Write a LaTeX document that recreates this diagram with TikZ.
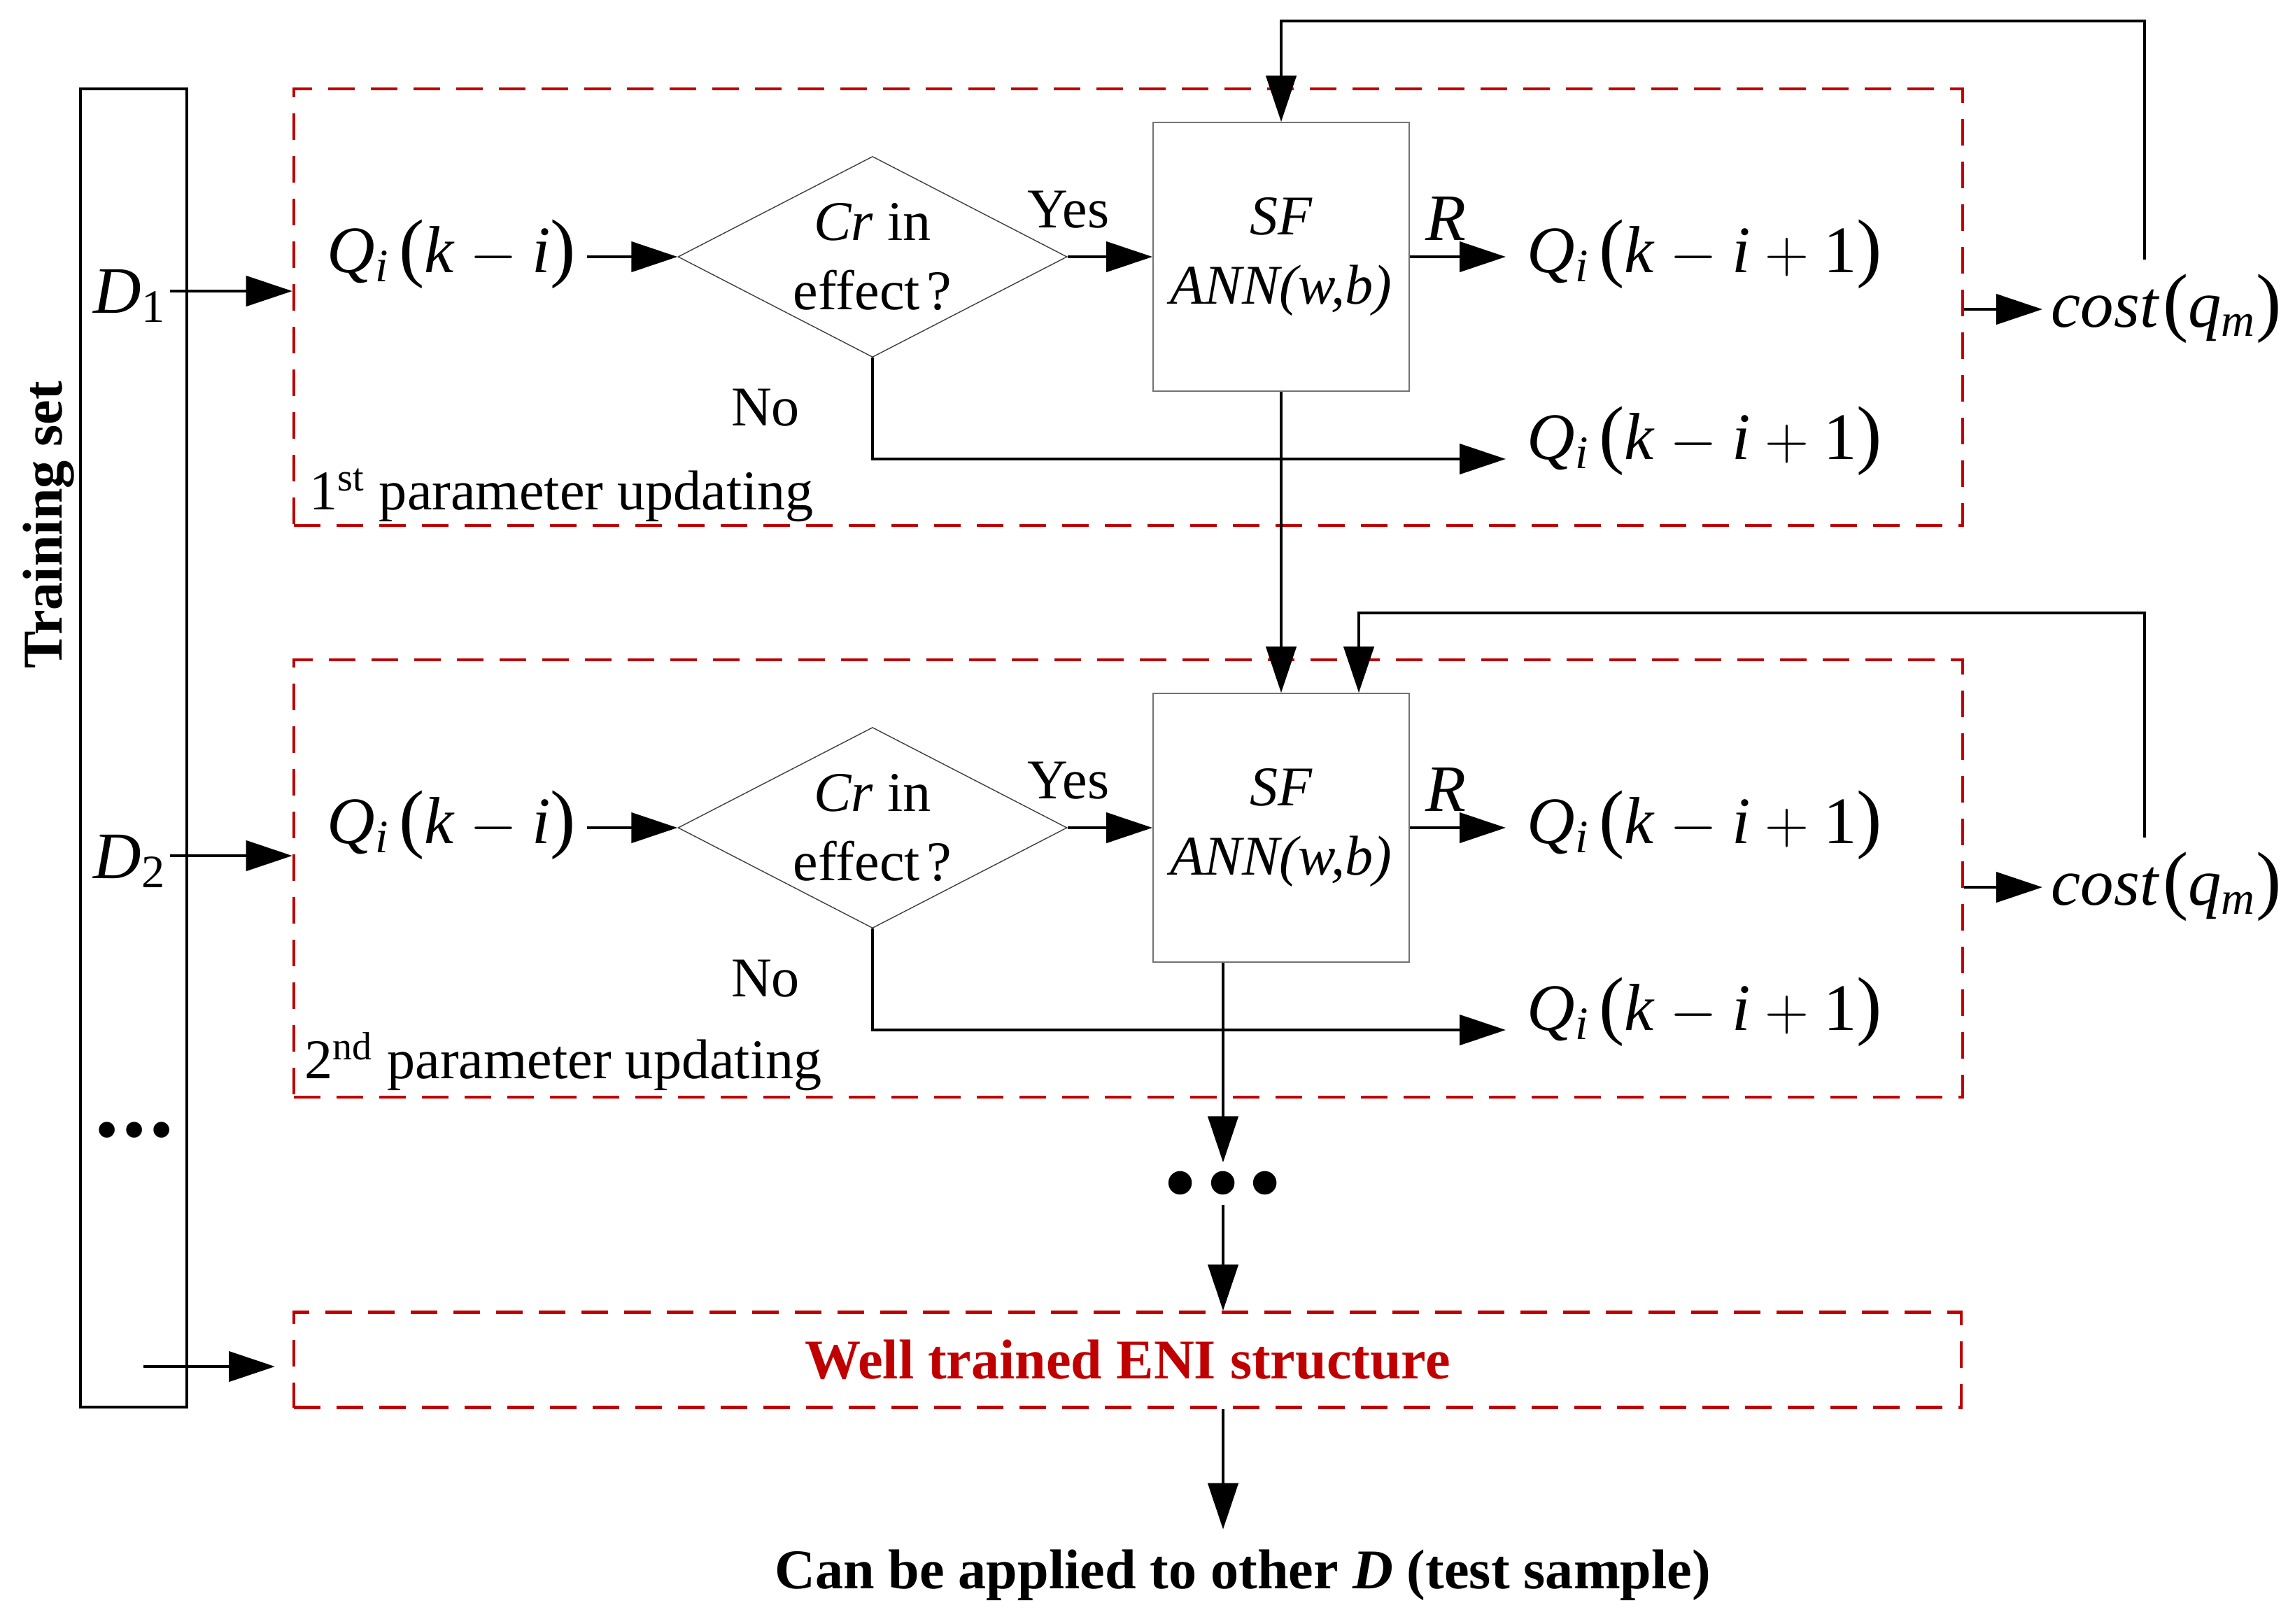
\documentclass[tikz,border=0pt]{standalone}
\usepackage{amsmath}
\usepackage{fontspec}
\setmainfont{Liberation Serif}
\usetikzlibrary{arrows.meta,shapes.geometric}

\definecolor{enired}{RGB}{192,0,0}
\newcommand{\txtsz}{\fontsize{22.8pt}{28.4pt}\selectfont}
\newcommand{\mathsz}{\fontsize{27pt}{32pt}\selectfont}
\newcommand{\mi}[1]{\textit{#1}}
\newcommand{\bpar}[1]{{\fontsize{31pt}{31pt}\selectfont #1}}
\newcommand{\opm}{\hspace{0.22em}{\fontsize{30pt}{30pt}\selectfont$-$}\hspace{0.22em}}
\newcommand{\opp}{\hspace{0.22em}{\fontsize{30pt}{30pt}\selectfont$+$}\hspace{0.22em}}
\newcommand{\qterm}[1]{\mi{Q}\textsubscript{\mi{i}}\hspace{0.15em}\bpar{(}#1\bpar{)}}
\newcommand{\costterm}{\mi{cost}\hspace{0.05em}\bpar{(}\mi{q}\textsubscript{\mi{m}}\bpar{)}}

\begin{document}
\begin{tikzpicture}[
      every node/.style={inner sep=0pt,font=\txtsz},
      conn/.style={line width=1.25pt,-{Triangle[length=0.66cm,width=0.43cm]}},
      upd/.style={draw=enired,line width=1.3pt,dash pattern=on 0.38cm off 0.23cm},
      cond/.style={diamond,draw=black!75,line width=0.4pt,aspect=1.94,
        minimum width=5.56cm,minimum height=2.87cm,align=center},
      sfbox/.style={draw=black!55,line width=0.5pt,minimum width=3.66cm,
        minimum height=3.84cm,align=center},
      expr/.style={font=\mathsz,text height=0.44cm,text depth=0cm,inner xsep=0.15cm}
    ]
      \useasboundingbox (0,0) rectangle (32.8,-23.2);

      % Training set column on the left
      \node[draw,line width=1.1pt,minimum width=1.52cm,minimum height=18.84cm] (train) at (1.91,-10.69) {};
      \node[rotate=90,anchor=base,font=\txtsz\bfseries] (trainlbl) at (0.88,-7.50) {Training set};
      \node[font=\fontsize{27pt}{27pt}\selectfont] (tdots) at (1.92,-16.25) {•\hspace{0.06em}•\hspace{0.06em}•};

      % First parameter updating block
      \node[upd,minimum width=23.85cm,minimum height=6.24cm] (upd1) at (16.125,-4.39) {};
      \node[anchor=base west,font=\mathsz,inner xsep=0.05cm] (d1) at (1.28,-4.47) {\mi{D}\textsubscript{1}};
      \node[expr,anchor=west] (qin1) at (4.52,-3.67) {\qterm{\mi{k}\opm\mi{i}}};
      \node[cond] (cr1) at (12.47,-3.67) {\mi{Cr} in\\effect\hspace{0.12em}?};
      \node[anchor=base] (yes1) at (15.27,-3.25) {Yes};
      \node[sfbox] (sf1) at (18.31,-3.67) {\mi{SF}\\\mi{ANN(w,b)}};
      \node[anchor=base,font=\mathsz] (r1) at (20.66,-3.43) {\mi{R}};
      \node[expr,anchor=west,inner xsep=0.3cm] (qout1) at (21.52,-3.67) {\qterm{\mi{k}\opm\mi{i}\opp 1}};
      \node[expr,anchor=base west,inner xsep=0.3cm] (qdn1) at (21.52,-6.56) {\qterm{\mi{k}\opm\mi{i}\opp 1}};
      \node[anchor=base] (no1) at (10.94,-6.08) {No};
      \node[anchor=base west] (lab1) at (4.42,-7.28) {1\textsuperscript{st} parameter updating};
      \node[expr,anchor=west,text height=0.5cm,inner xsep=0.12cm] (cost1) at (29.19,-4.42) {\costterm};
      \coordinate (d1o) at ([yshift=0.31cm]d1.base east);
      \coordinate (fb1) at (30.65,-3.71);

      \draw[conn] (d1o) -- (d1o -| upd1.west);
      \draw[conn] (qin1) -- (cr1);
      \draw[conn] (cr1) -- (sf1);
      \draw[conn] (sf1) -- (qout1);
      \draw[conn] (cr1.south) |- (qdn1.base west);
      \draw[conn] (cost1.west -| upd1.east) -- (cost1.west);
      \draw[conn] (fb1) -- ++(0,3.41) -| (sf1.north);

      % Second parameter updating block
      \node[upd,minimum width=23.85cm,minimum height=6.25cm] (upd2) at (16.125,-12.555) {};
      \node[anchor=base west,font=\mathsz,inner xsep=0.05cm] (d2) at (1.28,-12.55) {\mi{D}\textsubscript{2}};
      \node[expr,anchor=west] (qin2) at (4.52,-11.83) {\qterm{\mi{k}\opm\mi{i}}};
      \node[cond] (cr2) at (12.47,-11.83) {\mi{Cr} in\\effect\hspace{0.12em}?};
      \node[anchor=base] (yes2) at (15.27,-11.41) {Yes};
      \node[sfbox] (sf2) at (18.31,-11.83) {\mi{SF}\\\mi{ANN(w,b)}};
      \node[anchor=base,font=\mathsz] (r2) at (20.66,-11.59) {\mi{R}};
      \node[expr,anchor=west,inner xsep=0.3cm] (qout2) at (21.52,-11.83) {\qterm{\mi{k}\opm\mi{i}\opp 1}};
      \node[expr,anchor=base west,inner xsep=0.3cm] (qdn2) at (21.52,-14.72) {\qterm{\mi{k}\opm\mi{i}\opp 1}};
      \node[anchor=base] (no2) at (10.94,-14.24) {No};
      \node[anchor=base west] (lab2) at (4.35,-15.41) {2\textsuperscript{nd} parameter updating};
      \node[expr,anchor=west,text height=0.5cm,inner xsep=0.12cm] (cost2) at (29.19,-12.68) {\costterm};
      \coordinate (d2o) at ([yshift=0.32cm]d2.base east);
      \coordinate (fb2) at (30.65,-11.97);

      \draw[conn] (d2o) -- (d2o -| upd2.west);
      \draw[conn] (qin2) -- (cr2);
      \draw[conn] (cr2) -- (sf2);
      \draw[conn] (sf2) -- (qout2);
      \draw[conn] (cr2.south) |- (qdn2.base west);
      \draw[conn] (cost2.west -| upd2.east) -- (cost2.west);
      \draw[conn] (fb2) -- ++(0,3.21) -| ([xshift=1.11cm]sf2.north);
      % the trained block passes on to the next one
      \draw[conn] (sf1) -- (sf2);

      % Remaining updates and the final structure
      \node[font=\fontsize{40pt}{40pt}\selectfont,text height=1.14cm,text depth=0cm] (dots) at (17.48,-16.80) {•\hspace{0.08em}•\hspace{0.08em}•};
      \node[upd,minimum width=23.83cm,minimum height=1.36cm,text=enired,font=\txtsz\bfseries] (wt) at (16.115,-19.435) {Well trained ENI structure};
      \node[anchor=base,font=\txtsz\bfseries,inner ysep=0.28cm] (apply) at (17.76,-22.70) {Can be applied to other \textit{D} (test sample)};
      \coordinate (tsa) at (2.05,-19.53);
      \coordinate (tsb) at (3.93,-19.53);

      \draw[conn,shorten >=-0.39cm] (sf2.south -| dots.north) -- (dots.north);
      \draw[conn,shorten <=-0.16cm] (dots.south) -- (dots |- wt.north);
      \draw[conn] (dots |- wt.south) -- (dots |- apply.north);
      \draw[conn] (tsa) -- (tsb);
    \end{tikzpicture}
\end{document}
